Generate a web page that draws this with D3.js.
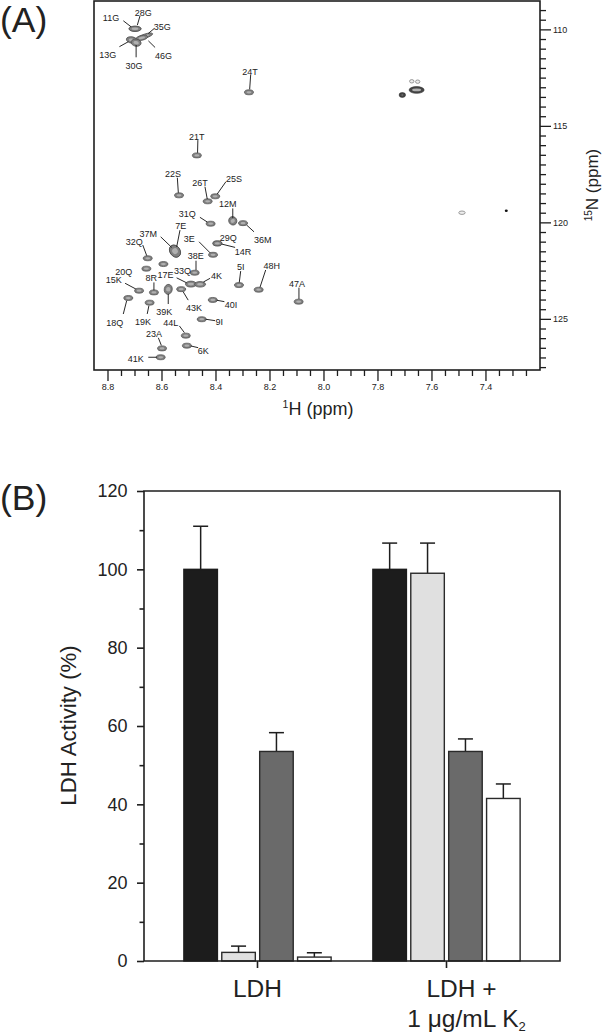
<!DOCTYPE html>
<html>
<head>
<meta charset="utf-8">
<script src="https://cdn.jsdelivr.net/npm/d3@7"></script>
<style>
html,body{margin:0;padding:0;background:#fff;}
svg{display:block;}
text{font-family:"Liberation Sans",Arial,sans-serif;fill:#222;}
</style>
</head>
<body>
<div id="chart"></div>
<script>
// ---------- Panel A data: assigned peaks (1H ppm, 15N ppm) ----------
const residues = ["11G","28G","35G","46G","13G","30G","24T","21T","22S","26T","25S","12M","36M","31Q","7E","37M","32Q","3E","29Q","14R","38E","33Q","20Q","17E","4K","15K","8R","39K","43K","18Q","19K","5I","48H","47A","40I","9I","44L","23A","6K","41K"];
const shiftH = [8.698,8.698,8.661,8.673,8.710,8.694,8.276,8.469,8.535,8.429,8.401,8.336,8.298,8.418,8.550,8.550,8.651,8.409,8.393,8.393,8.477,8.593,8.656,8.491,8.457,8.683,8.628,8.575,8.527,8.723,8.644,8.313,8.240,8.092,8.410,8.451,8.510,8.598,8.506,8.603];
const shiftN = [109.97,109.97,110.35,110.44,110.55,110.69,113.26,116.53,118.60,118.91,118.65,119.92,120.04,120.07,121.49,121.49,121.86,121.68,121.09,121.09,122.61,122.16,122.40,123.20,123.21,123.54,123.63,123.47,123.46,123.92,124.16,123.25,123.49,124.11,124.02,125.02,125.87,126.53,126.39,126.99];
// unassigned peaks
const extraH = [7.708,7.655,7.673,7.651,7.487,7.323];
const extraN = [113.40,113.14,112.69,112.71,119.50,119.40];
const extraKind = ["dark","dark","faint","faint","faint","tiny"];
const majorH = [8.8,8.6,8.4,8.2,8.0,7.8,7.6,7.4];
const minorH = [8.75,8.7,8.65,8.55,8.5,8.45,8.35,8.3,8.25,8.15,8.1,8.05,7.95,7.9,7.85,7.75,7.7,7.65,7.55,7.5,7.45,7.35,7.3,7.25];
const majorN = [110,115,120,125];
const minorN = [109,109.5,110.5,111,111.5,112,112.5,113,113.5,114,114.5,115.5,116,116.5,117,117.5,118,118.5,119,119.5,120.5,121,121.5,122,122.5,123,123.5,124,124.5,125.5,126,126.5,127,127.5];

// ---------- Panel B data ----------
const groups = ["LDH","LDH +"];
const barKeys = ["a","b","c","d"];
const ldhValues = [100,2.2,53.5,1];
const ldhTops = [111,3.8,58.3,2.1];
const k2Values = [100,99,53.5,41.5];
const k2Tops = [106.7,106.7,56.7,45.2];
const activityMajor = [0,20,40,60,80,100,120];
const activityMinor = [10,30,50,70,90,110];

// ---------- Layout / style (separate from the data) ----------
// label offset dx,dy and leader from/to offsets, px relative to the peak
const labelLayout = {
"11G":[-24,-11,-11.7,-8,-4,-2],"28G":[8.3,-16.4,5,-13,2.3,-3.7],"35G":[17.3,-9.7,9.3,-7.7,3.3,-2.7],"46G":[21.6,18,13.3,9.6,6.6,3],
"13G":[-24,14.7,-12.4,6.7,-3.4,1.7],"30G":[-2,23,0,14.6,0,2.3],"24T":[1,-20,1.7,-17.3,.7,-3],"21T":[0,-19,1,-15.3,.7,-2.6],
"22S":[-6,-21.3,-1.7,-17.6,-.7,-2.6],"26T":[-7.7,-18,-2.7,-14.6,-.4,-2.3],"25S":[18.7,-17.6,10.7,-14.6,2,-2.3],"12M":[-5,-17,0,-12.4,0,-2.7],
"36M":[19.7,16.3,11,8.7,3.7,2],"31Q":[-23.4,-9.7,-10.7,-6.4,-3.4,-1.7],"7E":[5.7,-25.3,5,-21,1.7,-4.3],"37M":[-26.7,-17.7,-14.3,-14.3,-3.3,-3.7],
"32Q":[-13.4,-16.6,-5,-13.3,-1,-2.6],"3E":[-23.7,-15.7,-14,-13,-3,-2],"29Q":[11,-5.6],"14R":[25.7,8,17.7,4,4.4,.7],
"38E":[1,-16.4,1.3,-12,1.3,-2.7],"33Q":[19,6.7],"20Q":[-22.6,3],"17E":[-25.3,-9.3,-14.3,-6.3,-4.3,-1.3],
"4K":[16.3,-8.3,10,-6,3.3,-2.3],"15K":[-25.3,-10.4,-14,-7.4,-3.3,-1.7],"8R":[-2.7,-14.3,0,-10,0,-2.3],"39K":[-4,22.4,0,14.7,0,4.7],
"43K":[12.7,18.7,7,11,2,2.7],"18Q":[-13.6,24.7,-5,16,-1.6,2.7],"19K":[-6.7,19,-2.4,11.3,-.7,3],"5I":[1.7,-18,1.7,-14,.3,-2.7],
"48H":[13,-23.7,7,-19.7,1.3,-2.4],"47A":[-1.7,-18,.3,-14,.3,-2.7],"40I":[18.3,4.7,11.6,1.7,4,.3],"9I":[17.6,2.7,13.3,1.4,4,0],
"44L":[-15,-12.4,-6.4,-9.7,-1.4,-3],"23A":[-8,-14.6,-3.7,-10.6,-.7,-3],"6K":[16.3,5.3,11.3,2,4,.3],"41K":[-25,2,-12.4,0,-4,0]
};
// rx, ry, rotation for peaks that are not the default ellipse
const peakShape = {"11G":[6,2.6,0],"28G":[6,2.6,0],"35G":[8,2.1,-18],"46G":[6,2.4,-12],"13G":[5.5,3.2,10],"30G":[5,3.6,10],
"12M":[4,4.3,-30],"7E":[5,6.5,-35],"37M":[5,6.5,-35],"39K":[4,5,10],"17E":[5.5,3,0],"4K":[5.5,2.8,0]};
const barFill = {a:"#1c1c1c",b:"#e0e0e0",c:"#6a6a6a",d:"#ffffff"};
const ink = "#1e1e1e";

const W = 602, H = 1035;
const svg = d3.select("#chart").append("svg").attr("width",W).attr("height",H).attr("viewBox",`0 0 ${W} ${H}`);

// ================ Panel A ================
const a = {left:94,right:540,top:1,bottom:370};
const x = d3.scaleLinear().domain([8.85,7.198]).range([a.left,a.right]);
const y = d3.scaleLinear().domain([108.53,127.65]).range([a.top,a.bottom]);
const A = svg.append("g");

function styleAxis(g,sw){
  g.select(".domain").remove();
  g.selectAll("line").attr("stroke",ink).attr("stroke-width",sw);
  g.selectAll("text").attr("font-size",9).attr("fill","#333");
}
A.append("g").attr("transform",`translate(0,${a.bottom})`)
  .call(d3.axisBottom(x).tickValues(minorH).tickSize(6).tickFormat(""))
  .call(g=>styleAxis(g,1.3));
A.append("g").attr("transform",`translate(0,${a.bottom})`)
  .call(d3.axisBottom(x).tickValues(majorH).tickSize(11).tickPadding(3).tickFormat(d3.format(".1f")))
  .call(g=>styleAxis(g,1.3));
A.append("g").attr("transform",`translate(${a.right},0)`)
  .call(d3.axisRight(y).tickValues(minorN).tickSize(6).tickFormat(""))
  .call(g=>styleAxis(g,1.3));
A.append("g").attr("transform",`translate(${a.right},0)`)
  .call(d3.axisRight(y).tickValues(majorN).tickSize(11).tickPadding(2).tickFormat(d3.format("d")))
  .call(g=>styleAxis(g,1.3));
A.append("rect").attr("x",a.left).attr("y",a.top).attr("width",a.right-a.left).attr("height",a.bottom-a.top)
  .attr("fill","none").attr("stroke",ink).attr("stroke-width",1.6);

// peaks
const peaks = residues.map((r,i)=>({r,h:shiftH[i],n:shiftN[i]}));
const pk = A.append("g");
peaks.forEach(p=>{
  const s = peakShape[p.r] || [4.5,2.5,0];
  const g = pk.append("g").attr("transform",`translate(${x(p.h)},${y(p.n)}) rotate(${s[2]})`);
  g.append("ellipse").attr("rx",s[0]).attr("ry",s[1]).attr("fill","#808080").attr("stroke","#4a4a4a").attr("stroke-width",.7);
  g.append("ellipse").attr("rx",s[0]*.55).attr("ry",s[1]*.45).attr("fill","#b0b0b0");
});
extraH.forEach((h,i)=>{
  const k = extraKind[i], cx = x(h), cy = y(extraN[i]);
  if(k==="dark"){
    const big = i===1;
    const e = pk.append("g").attr("transform",`translate(${cx},${cy})`);
    e.append("ellipse").attr("rx",big?7.5:3.2).attr("ry",big?3.4:2.4).attr("fill","#454545").attr("stroke","#2a2a2a").attr("stroke-width",.6);
    e.append("ellipse").attr("rx",big?4.5:1).attr("ry",big?1.4:.8).attr("fill",big?"#b0b0b0":"#777");
  } else if(k==="faint"){
    pk.append("ellipse").attr("cx",cx).attr("cy",cy).attr("rx",i===4?3.2:2.2).attr("ry",1.7)
      .attr("fill","#eee").attr("stroke","#8f8f8f").attr("stroke-width",.9);
  } else {
    pk.append("ellipse").attr("cx",cx).attr("cy",cy).attr("rx",1.5).attr("ry",1.2).attr("fill","#111");
  }
});

// leaders + labels
peaks.forEach(p=>{
  const l = labelLayout[p.r], cx = x(p.h), cy = y(p.n);
  if(l.length>2){
    A.append("line").attr("x1",cx+l[2]).attr("y1",cy+l[3]).attr("x2",cx+l[4]).attr("y2",cy+l[5])
      .attr("stroke","#111").attr("stroke-width",.9);
  }
  A.append("text").attr("x",cx+l[0]).attr("y",cy+l[1]).attr("text-anchor","middle").attr("dy","0.35em")
    .attr("font-size",9).attr("fill","#222").text(p.r);
});

// axis titles
const t1 = A.append("text").attr("x",318).attr("y",415).attr("text-anchor","middle").attr("font-size",18);
t1.append("tspan").attr("font-size",10.5).attr("dy",-7).text("1");
t1.append("tspan").attr("dy",7).text("H (ppm)");
const t2 = A.append("text").attr("transform","translate(598,185) rotate(-90)").attr("text-anchor","middle").attr("font-size",17);
t2.append("tspan").attr("font-size",10).attr("dy",-6).text("15");
t2.append("tspan").attr("dy",6).text("N (ppm)");

svg.append("text").attr("x",0).attr("y",32).attr("font-size",35.5).text("(A)");
svg.append("text").attr("x",0).attr("y",510).attr("font-size",35.5).text("(B)");

// ================ Panel B ================
const b = {left:144,right:560,top:491,bottom:961};
const yB = d3.scaleLinear().domain([0,120]).range([b.bottom,b.top]);
const x0 = d3.scaleBand().domain(groups).range([163,541]);
const x1 = d3.scaleBand().domain(barKeys).range([-75.8,75.8]).paddingInner(.115).paddingOuter(.0575);
const B = svg.append("g");

function styleB(g){
  g.select(".domain").remove();
  g.selectAll("line").attr("stroke",ink).attr("stroke-width",1.6);
  g.selectAll("text").attr("font-size",18).attr("fill","#222");
}
const rows = [{g:groups[0],vals:ldhValues,tops:ldhTops},{g:groups[1],vals:k2Values,tops:k2Tops}];
rows.forEach(row=>{
  const c = x0(row.g)+x0.bandwidth()/2;
  barKeys.forEach((k,i)=>{
    const bx = c+x1(k), bw = x1.bandwidth(), cx = bx+bw/2;
    B.append("line").attr("x1",cx).attr("x2",cx).attr("y1",yB(row.vals[i])).attr("y2",yB(row.tops[i]))
      .attr("stroke",ink).attr("stroke-width",1.5);
    B.append("line").attr("x1",cx-7.5).attr("x2",cx+7.5).attr("y1",yB(row.tops[i])).attr("y2",yB(row.tops[i]))
      .attr("stroke",ink).attr("stroke-width",1.5);
    B.append("rect").attr("x",bx).attr("y",yB(row.vals[i])).attr("width",bw).attr("height",yB(0)-yB(row.vals[i]))
      .attr("fill",barFill[k]).attr("stroke",k==="a"?"#1c1c1c":"#2a2a2a").attr("stroke-width",1.4);
  });
});

B.append("g").attr("transform",`translate(${b.left},0)`)
  .call(d3.axisLeft(yB).tickValues(activityMinor).tickSize(4.5).tickFormat(""))
  .call(styleB);
B.append("g").attr("transform",`translate(${b.left},0)`)
  .call(d3.axisLeft(yB).tickValues(activityMajor).tickSize(7).tickPadding(9.5).tickFormat(d3.format("d")))
  .call(styleB);
// frame: left, top, right, baseline
B.append("path").attr("d",`M${b.left},${b.bottom}V${b.top}H${b.right}V${b.bottom}H${b.left}`)
  .attr("fill","none").attr("stroke",ink).attr("stroke-width",1.6);
B.append("g").attr("transform",`translate(0,${b.bottom})`)
  .call(d3.axisBottom(x0).tickSize(7).tickFormat(""))
  .call(styleB);

B.append("text").attr("transform","translate(76,725.5) rotate(-90)").attr("text-anchor","middle").attr("font-size",22.2).text("LDH Activity (%)");
B.append("text").attr("x",257.5).attr("y",997).attr("text-anchor","middle").attr("font-size",24.5).text(groups[0]);
B.append("text").attr("x",461.5).attr("y",997).attr("text-anchor","middle").attr("font-size",24.5).text(groups[1]);
const sub = B.append("text").attr("x",466.5).attr("y",1027).attr("text-anchor","middle").attr("font-size",24.5);
sub.append("tspan").text("1 μg/mL K");
sub.append("tspan").attr("font-size",13).attr("dy",4).text("2");
</script>
</body>
</html>
